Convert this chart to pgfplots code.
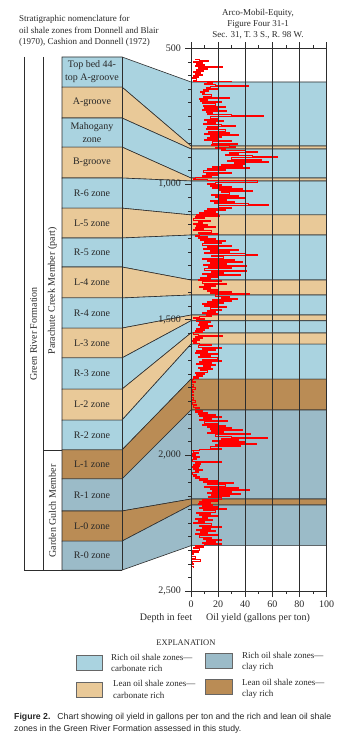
\documentclass[border=0pt]{standalone}
\usepackage{pgfplots}
\pgfplotsset{compat=1.18}
\usepackage{fontspec}
\setmainfont{Liberation Serif}
\newfontfamily\capfont{Liberation Sans}
\definecolor{cb}{RGB}{170,211,224}
\definecolor{tn}{RGB}{233,201,152}
\definecolor{clb}{RGB}{155,187,200}
\definecolor{br}{RGB}{186,140,85}
\definecolor{ln}{RGB}{45,45,45}
\definecolor{tx}{RGB}{40,40,40}
\definecolor{rd}{RGB}{255,0,0}
\newcommand{\zone}[5]{\addplot[fill=#1, draw=ln, line width=0.6pt] coordinates {(-95.2,#2) (-50.9,#2) (0,#4) (100,#4) (100,#5) (0,#5) (-50.9,#3) (-95.2,#3)} -- cycle;}
\newcommand{\zl}[2]{\node[font=\fontsize{10}{13}\selectfont, text=tx, align=center] at (axis cs:-73.1,#1) {#2};}
\begin{document}
\begin{tikzpicture}
\path[use as bounding box] (0,0) rectangle (351pt,-746pt);
\begin{axis}[
  at={(191pt,-48.3pt)}, anchor=north west,
  width=135.5pt, height=542.7pt, scale only axis,
  xmin=0, xmax=100, ymin=500, ymax=2500, y dir=reverse,
  clip=false, axis on top,
  axis line style={draw=ln, line width=0.7pt},
  every tick/.style={draw=ln, line width=0.6pt},
  xtick={0,20,...,100}, minor xtick={10,30,...,90},
  ytick={500,1000,...,2500}, minor ytick={550,600,...,2450},
  ytick pos=left, xticklabel pos=lower,
  tick align=outside, major tick length=6pt, minor tick length=3pt,
  xmajorgrids, major grid style={draw=ln, line width=0.7pt},
  tick label style={font=\fontsize{10}{12}\selectfont, text=tx},
  /pgf/number format/assume math mode=true,
  /pgf/number format/1000 sep={,},
  yticklabel style={xshift=-0.5pt},
]
\zone{cb}{532}{643}{624}{860}
\zone{tn}{643}{757}{860}{871}
\zone{cb}{757}{864}{871}{978}
\zone{tn}{864}{978}{978}{989}
\zone{cb}{978}{1089}{989}{1114}
\zone{tn}{1089}{1199}{1114}{1188}
\zone{cb}{1199}{1306}{1188}{1354}
\zone{tn}{1306}{1420}{1354}{1409}
\zone{cb}{1420}{1531}{1409}{1483}
\zone{tn}{1531}{1641}{1483}{1504}
\zone{cb}{1641}{1756}{1504}{1549}
\zone{tn}{1756}{1870}{1549}{1590}
\zone{cb}{1870}{1980}{1590}{1719}
\zone{br}{1980}{2087}{1719}{1833}
\zone{clb}{2087}{2205}{1833}{2161}
\zone{br}{2205}{2316}{2161}{2183}
\zone{clb}{2316}{2423}{2183}{2333}
\draw[ln, line width=0.6pt] (axis cs:-50.9,532) -- (axis cs:-50.9,2423);
\draw[ln, line width=0.6pt] (axis cs:-123.2,532) -- (axis cs:-123.2,2423) -- (axis cs:-50.9,2423);
\draw[ln, line width=0.6pt] (axis cs:-109.2,532) -- (axis cs:-109.2,2423);
\draw[ln, line width=0.6pt] (axis cs:-109.2,1980) -- (axis cs:-95.2,1980);
\zl{587}{Top bed 44-\\top A-groove}
\zl{700}{A-groove}
\zl{810}{Mahogany\\zone}
\zl{921}{B-groove}
\zl{1033}{R-6 zone}
\zl{1144}{L-5 zone}
\zl{1252}{R-5 zone}
\zl{1363}{L-4 zone}
\zl{1475}{R-4 zone}
\zl{1586}{L-3 zone}
\zl{1698}{R-3 zone}
\zl{1813}{L-2 zone}
\zl{1925}{R-2 zone}
\zl{2033}{L-1 zone}
\zl{2146}{R-1 zone}
\zl{2260}{L-0 zone}
\zl{2369}{R-0 zone}
\addplot[draw=rd, line width=0.45pt, const plot, mark=none] coordinates {
(3,540) (6,544) (13,548) (2,551) (8,555) (4,558) (10,562) (3,565) (23,569) (5,572) (12,576) (4,580) (9,584) (2,588) (7,592) (3,596) (8,600) (2,604) (5,608) (1,612) (4,616) (2,620)
(30,622) (12,625) (16,629) (10,632) (18,636) (42,640) (14,643) (11,647) (20,651) (9,655) (13,659) (7,663) (10,667) (8,671) (15,675) (9,679) (28,684) (6,688) (12,692) (7,696) (22,700) (8,704) (18,708) (9,712) (25,716) (10,720) (20,724) (8,728) (26,732) (11,736) (16,740) (12,744) (30,748) (53,752) (14,756) (20,760) (10,764) (24,768) (12,772) (18,776) (9,780) (22,784) (33,788) (12,792) (20,796) (11,800) (25,804) (13,808) (28,812) (10,816) (35,820) (14,824) (22,828) (12,832) (20,836) (10,840) (30,844) (16,848) (34,852) (15,856) (28,860)
(33,863) (18,867) (25,871)
(22,875) (40,879) (49,883) (28,887) (35,891) (25,895) (45,899) (64,903) (30,907) (52,911) (27,915) (57,919) (32,923) (40,927) (22,931) (38,935) (16,939) (43,943) (12,947) (25,951) (9,955) (30,959) (11,963) (20,967) (8,971) (15,975)
(3,979) (2,982) (12,985) (49,989)
(49,992) (18,996) (12,1000) (22,1004) (14,1008) (30,1012) (16,1016) (38,1020) (20,1024) (45,1028) (22,1032) (28,1036) (15,1040) (35,1044) (18,1048) (40,1052) (20,1056) (26,1060) (14,1064) (32,1068) (17,1072) (42,1076) (57,1080) (20,1084) (30,1088) (12,1092) (25,1096) (10,1100) (18,1104) (6,1108) (20,1112)
(4,1116) (21,1120) (3,1124) (10,1128) (2,1132) (14,1136) (5,1140) (8,1144) (2,1148) (12,1152) (4,1156) (18,1160) (3,1164) (9,1168) (2,1172) (15,1176) (5,1180) (20,1184) (6,1188)
(3,1192) (12,1196) (5,1200) (18,1204) (7,1208) (25,1212) (10,1216) (22,1220) (8,1224) (30,1228) (12,1232) (20,1236) (9,1240) (35,1244) (14,1248) (28,1252) (10,1256) (40,1260) (49,1264) (15,1268) (24,1272) (8,1276) (32,1280) (12,1284) (38,1288) (14,1292) (26,1296) (9,1300) (41,1304) (13,1308) (30,1312) (10,1316) (41,1320) (15,1324) (24,1328) (8,1332) (36,1336) (12,1340) (20,1344) (7,1348) (14,1352)
(5,1356) (22,1360) (8,1364) (26,1368) (10,1372) (18,1376) (6,1380) (14,1384) (9,1388) (20,1392) (12,1396) (30,1400) (14,1404) (43,1408)
(18,1412) (28,1416) (22,1420) (34,1424) (16,1428) (30,1432) (12,1436) (24,1440) (8,1444) (20,1448) (10,1452) (26,1456) (14,1460) (22,1464) (12,1468) (18,1472) (8,1476) (20,1480) (11,1484)
(15,1488) (6,1492) (2,1496) (10,1500) (4,1504) (14,1508) (6,1512) (12,1516) (5,1520) (16,1524) (7,1528) (13,1532) (4,1536) (10,1540) (3,1544) (8,1548) (2,1552) (5,1556) (23,1560) (3,1564) (8,1568) (2,1572) (6,1576) (1,1580) (4,1584) (2,1588)
(6,1592) (15,1596) (5,1600) (22,1604) (8,1608) (18,1612) (4,1616) (12,1620) (3,1624) (20,1628) (7,1632) (14,1636) (5,1640) (19,1644) (8,1648) (22,1652) (6,1656) (15,1660) (4,1664) (18,1668) (9,1672) (14,1676) (5,1680) (16,1684) (7,1688) (12,1692) (3,1696) (10,1700) (4,1704) (8,1708) (2,1712) (5,1716)
(2,1720) (1,1726) (3,1732) (0.5,1738) (2,1744) (1,1750) (3,1756) (1,1762) (2,1768) (0.5,1774) (1.5,1780) (0.5,1786) (2,1792) (1,1798) (3,1804) (1,1810) (4,1816) (2,1822) (6,1828) (3,1832)
(8,1836) (3,1840) (12,1844) (5,1848) (18,1852) (6,1856) (22,1860) (9,1864) (15,1868) (6,1872) (27,1876) (10,1880) (20,1884) (8,1888) (25,1892) (12,1896) (30,1900) (14,1904) (38,1908) (15,1912) (24,1916) (12,1920) (44,1924) (18,1928) (30,1932) (56,1936) (22,1940) (35,1944) (16,1948) (40,1952) (20,1956) (48,1960) (18,1964) (36,1968) (14,1972) (22,1976) (6,1980) (0,1983) (2,1988) (5,1992) (1,1996) (3,2000) (0.5,2004) (6,2008) (2,2012) (4,2016) (1,2020) (22,2025) (3,2028) (7,2032) (2,2036) (6,2040) (1,2044) (5,2048) (2,2052) (8,2056) (3,2060) (5,2064) (1,2068) (4,2072) (2,2076) (6,2080) (3,2084) (12,2088) (6,2092) (20,2096) (9,2100) (31,2104) (12,2108) (25,2112) (10,2116) (35,2120) (14,2124) (43,2128) (16,2132) (30,2136) (12,2140) (36,2144) (15,2148) (28,2152) (13,2156) (22,2160)
(8,2164) (20,2168) (6,2172) (14,2176) (5,2180)
(16,2184) (8,2188) (20,2192) (6,2196) (26,2200) (9,2204) (18,2208) (4,2212) (14,2216) (6,2220) (20,2224) (8,2228) (12,2232) (3,2236) (16,2240) (5,2244) (10,2248) (2,2252) (15,2256) (6,2260) (22,2264) (8,2268) (14,2272) (4,2276) (18,2280) (7,2284) (12,2288) (3,2292) (20,2296) (6,2300) (15,2304) (9,2308) (22,2312) (11,2316) (18,2320) (8,2324) (22,2328) (10,2332)
(3,2336) (9,2340) (2,2344) (6,2348) (1,2352) (5,2356) (0.5,2360) (2,2366) (0.5,2372) (3,2378) (1,2384) (7,2390) (1,2396) (2,2402) (0.5,2408) (2,2414)
};
\end{axis}
% header texts
\begin{scope}[every node/.style={font=\fontsize{9}{11}\selectfont, text=tx, inner sep=0pt}]
\node[anchor=base west] at (19pt,-22pt) {Stratigraphic nomenclature for};
\node[anchor=base west] at (19pt,-33.5pt) {oil shale zones from Donnell and Blair};
\node[anchor=base west] at (19pt,-45pt) {(1970), Cashion and Donnell (1972)};
\node[anchor=base] at (258pt,-15.5pt) {Arco-Mobil-Equity,};
\node[anchor=base] at (258pt,-27pt) {Figure Four 31-1};
\node[anchor=base] at (258pt,-37.5pt) {Sec. 31, T. 3 S., R. 98 W.};
\end{scope}
\begin{scope}[every node/.style={font=\fontsize{10}{12}\selectfont, text=tx, inner sep=0pt}]
\node[rotate=90] at (33.5pt,-334pt) {Green River Formation};
\node[rotate=90] at (52.5pt,-291pt) {Parachute Creek Member (part)};
\node[rotate=90] at (52.5pt,-511pt) {Garden Gulch Member};
\node[anchor=base] at (166pt,-620pt) {Depth in feet};
\node[anchor=base] at (258pt,-620pt) {Oil yield (gallons per ton)};
\end{scope}
% explanation
\begin{scope}[every node/.style={font=\fontsize{9}{11}\selectfont, text=tx, inner sep=0pt, anchor=base west}]
\node[anchor=base, font=\fontsize{8.5}{10}\selectfont] at (186pt,-645pt) {EXPLANATION};
\filldraw[fill=cb, draw=black!60, line width=0.6pt] (76pt,-655pt) rectangle (102pt,-670pt);
\filldraw[fill=clb, draw=black!60, line width=0.6pt] (205pt,-653pt) rectangle (232pt,-668pt);
\filldraw[fill=tn, draw=black!60, line width=0.6pt] (76pt,-682pt) rectangle (102pt,-697pt);
\filldraw[fill=br, draw=black!60, line width=0.6pt] (205pt,-679pt) rectangle (232pt,-694pt);
\node at (111pt,-660pt) {Rich oil shale zones---};
\node at (111pt,-671pt) {carbonate rich};
\node at (242pt,-658pt) {Rich oil shale zones---};
\node at (242pt,-669pt) {clay rich};
\node at (113pt,-686pt) {Lean oil shale zones---};
\node at (113pt,-698pt) {carbonate rich};
\node at (242pt,-685pt) {Lean oil shale zones---};
\node at (242pt,-696pt) {clay rich};
\end{scope}
\begin{scope}[every node/.style={font=\capfont\fontsize{8.7}{10}\selectfont, text=black!85, inner sep=0pt, anchor=base west}]
\node at (14pt,-719pt) {\textbf{Figure 2.}\hspace{7pt}Chart showing oil yield in gallons per ton and the rich and lean oil shale};
\node at (14pt,-731pt) {zones in the Green River Formation assessed in this study.};
\end{scope}
\end{tikzpicture}
\end{document}
